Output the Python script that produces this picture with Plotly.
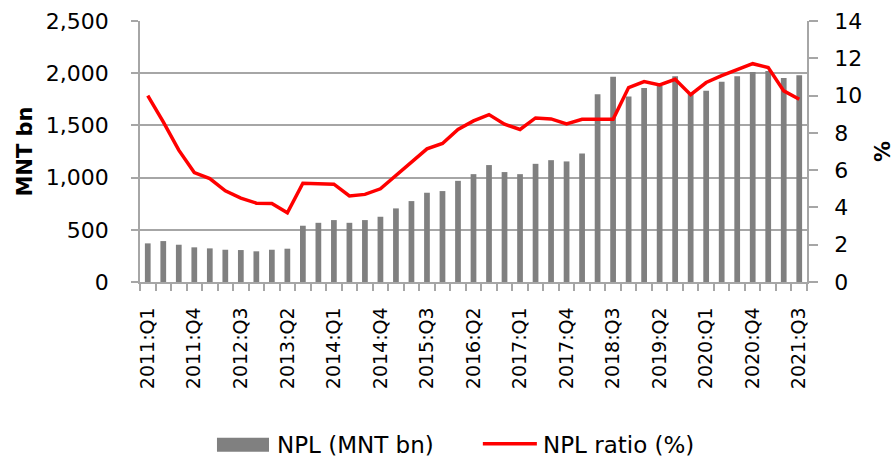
import plotly.graph_objects as go

quarters = [f"{y}:Q{q}" for y in range(2011, 2022) for q in range(1, 5)][:43]

npl_bn = [370, 392, 357, 332, 322, 309, 306, 294, 309, 319,
          539, 567, 593, 567, 593, 625, 705, 775, 855, 871,
          969, 1033, 1120, 1053, 1033, 1132, 1167, 1155, 1231, 1799,
          1965, 1777, 1858, 1878, 1970, 1805, 1832, 1918, 1971, 2012,
          2022, 1955, 1981]

npl_ratio = [10.0, 8.59, 7.07, 5.87, 5.55, 4.89, 4.50, 4.23, 4.21, 3.71,
             5.30, 5.29, 5.25, 4.62, 4.70, 5.00, 5.73, 6.46, 7.14, 7.43,
             8.18, 8.64, 8.98, 8.46, 8.18, 8.80, 8.75, 8.48, 8.73, 8.73,
             8.73, 10.43, 10.75, 10.57, 10.87, 10.05, 10.70, 11.07, 11.39, 11.71,
             11.50, 10.25, 9.80]

series_names = ["NPL (MNT bn)", "NPL ratio (%)"]
bar_color = "#808080"
line_color = "#ff0000"

label_every = 3
idx = list(range(len(quarters)))
tick_idx = idx[::label_every]
tick_text = [quarters[i] for i in tick_idx]

FONT = "DejaVu Sans"
GRID = "#a6a6a6"

fig = go.Figure()
fig.add_trace(go.Bar(x=idx, y=npl_bn, name=series_names[0],
                     marker=dict(color=bar_color, line=dict(width=0)),
                     yaxis="y"))
fig.add_trace(go.Scatter(x=idx, y=npl_ratio, name=series_names[1],
                         mode="lines", line=dict(color=line_color, width=3.5),
                         yaxis="y2"))

# custom legend (wide swatches like the original)
fig.add_shape(type="rect", xref="paper", yref="paper", x0=0.1154, x1=0.1934,
              y0=-0.6506, y1=-0.597, fillcolor=bar_color, line=dict(width=0))
fig.add_shape(type="line", xref="paper", yref="paper", x0=0.514, x1=0.595,
              y0=-0.62, y1=-0.62, line=dict(color=line_color, width=3.5))
fig.add_annotation(text=series_names[0], xref="paper", yref="paper", x=0.2024, y=-0.624,
                   xanchor="left", yanchor="middle", showarrow=False,
                   font=dict(size=23, family=FONT))
fig.add_annotation(text=series_names[1], xref="paper", yref="paper", x=0.601, y=-0.624,
                   xanchor="left", yanchor="middle", showarrow=False,
                   font=dict(size=23, family=FONT))

fig.update_layout(
    width=895, height=461,
    margin=dict(l=140, r=88, t=21, b=179, autoexpand=False),
    paper_bgcolor="white", plot_bgcolor="white",
    font=dict(family=FONT, size=20, color="#000000"),
    bargap=0.63,
    showlegend=False,
    xaxis=dict(range=[-0.5, len(quarters) - 0.5], tickmode="array",
               tickvals=tick_idx, ticktext=tick_text, tickangle=-90,
               tickfont=dict(size=19), automargin=False, ticklabelstandoff=16,
               ticks="", showgrid=False, showline=True, linecolor=GRID, linewidth=1.5,
               zeroline=False,
               minor=dict(tickmode="array", tickvals=[i - 0.5 for i in range(len(quarters) + 1)],
                          ticks="outside", ticklen=7, tickcolor=GRID, tickwidth=1.5,
                          showgrid=False)),
    yaxis=dict(range=[0, 2500], dtick=500, tickformat=",", showgrid=True,
               tickfont=dict(size=22), automargin=False, ticklabelstandoff=18,
               gridcolor=GRID, gridwidth=1.5, showline=True, linecolor=GRID, linewidth=1.5,
               ticks="outside", ticklen=7, tickcolor=GRID, tickwidth=1.5, zeroline=False,
               title=dict(text="<b>MNT bn</b>", font=dict(size=21), standoff=8)),
    yaxis2=dict(range=[0, 14], dtick=2, overlaying="y", side="right", showgrid=False,
                tickfont=dict(size=22), automargin=False, ticklabelstandoff=12,
                showline=True, linecolor=GRID, linewidth=1.5, ticks="outside",
                ticklen=9, tickcolor=GRID, tickwidth=1.5, zeroline=False,
                title=dict(text="<b>%</b>", font=dict(size=21), standoff=24)),
)

fig.write_html("out.html", config={"displayModeBar": False},
               post_script="document.body.style.margin='0';document.body.style.padding='0';")
